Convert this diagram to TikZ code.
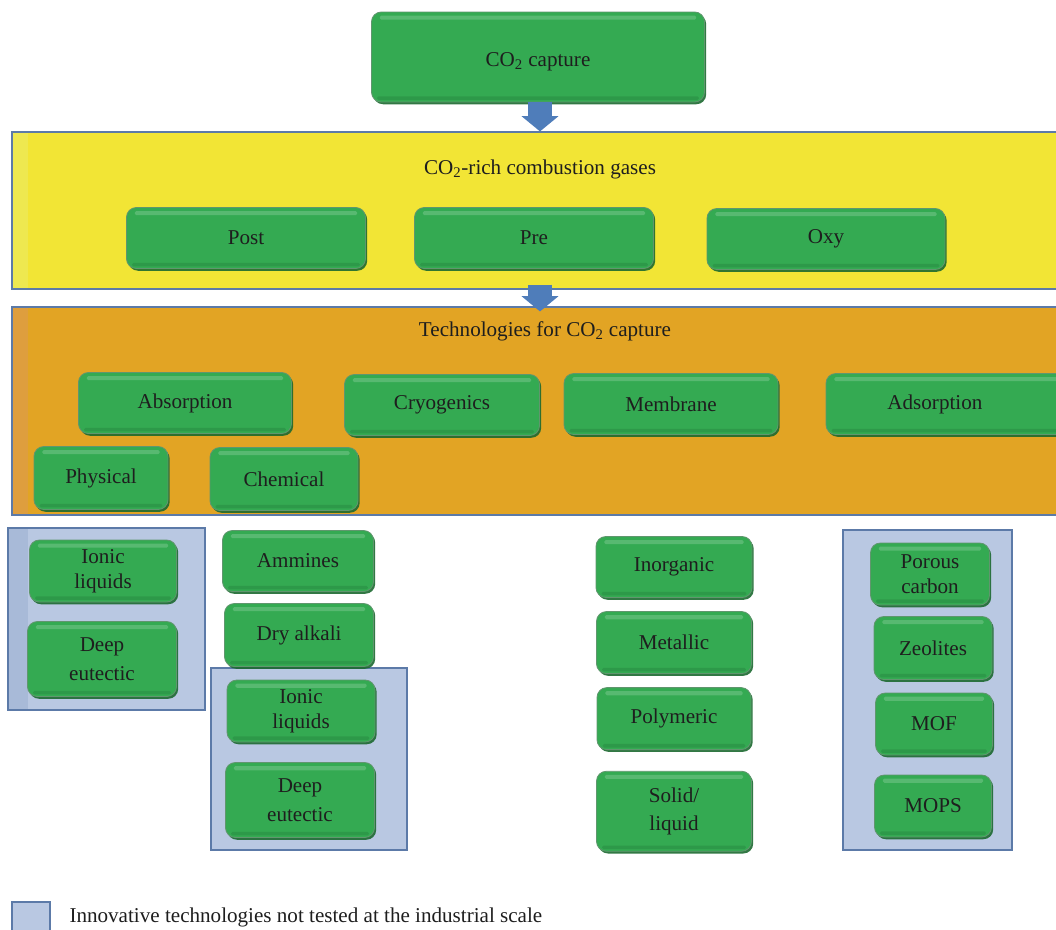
\documentclass[tikz,border=0pt]{standalone}
\usepackage{fontspec}
\setmainfont{Liberation Serif}
\usetikzlibrary{positioning, arrows.meta, shadows}

\definecolor{boxgreen}{RGB}{52,170,82}
\definecolor{edgegreen}{RGB}{28,105,48}
\definecolor{bandyellow}{RGB}{242,229,53}
\definecolor{stripyellow}{RGB}{238,232,80}
\definecolor{bandorange}{RGB}{226,164,36}
\definecolor{striporange}{RGB}{222,158,62}
\definecolor{newblue}{RGB}{185,200,226}
\definecolor{stripblue}{RGB}{168,186,216}
\definecolor{lineblue}{RGB}{92,122,168}
\definecolor{arrowblue}{RGB}{79,125,186}
\definecolor{textgray}{RGB}{30,30,30}

\begin{document}
\begin{tikzpicture}[x=0.025cm, y=-0.025cm,
  every node/.style={font=\fontsize{15}{18}\selectfont, text=textgray},
  btn/.style={rectangle, rounded corners=7pt, fill=boxgreen, draw=edgegreen!70,
    line width=0.6pt, align=center, inner sep=2pt,
    drop shadow={shadow xshift=1.2pt, shadow yshift=-1.6pt, fill=edgegreen, opacity=0.9},
    path picture={\fill[white, opacity=0.18, rounded corners=1pt]
      ([xshift=6pt, yshift=-2.5pt]path picture bounding box.north west) rectangle
      ([xshift=-6pt, yshift=-5.5pt]path picture bounding box.north east);
      \fill[edgegreen, opacity=0.25, rounded corners=1pt]
      ([xshift=4pt, yshift=1.5pt]path picture bounding box.south west) rectangle
      ([xshift=-4pt, yshift=4pt]path picture bounding box.south east);}},
  wh/.style 2 args={minimum width=#1*0.025cm, minimum height=#2*0.025cm},
  band/.style={rectangle, draw=lineblue, line width=0.8pt, inner sep=0pt},
  newbox/.style={rectangle, draw=lineblue, line width=0.8pt, fill=newblue, inner sep=0pt},
  blockarrow/.style={draw=arrowblue, line width=0.6cm,
    -{Triangle[width=0.9cm, length=0.38cm]}}]

\useasboundingbox (0,0) rectangle (1056,929);
\clip (0,0) rectangle (1056,929);

% the two bands
\node (gasband) [band, fill=bandyellow, wh={1048}{157}] at (536,210.5) {};
\fill[stripyellow] (13,133) rectangle (28,288);
\node (techband) [band, fill=bandorange, wh={1048}{208}] at (536,411) {};
\fill[striporange] (13,308) rectangle (28,514);

\node (gastitle) at (540,169) {CO\textsubscript{2}-rich combustion gases};
\node (techtitle) at (545,331) {Technologies for CO\textsubscript{2} capture};

% groups of innovative technologies
\node (group1) [newbox, wh={197}{182}] at (106.5,619) {};
\fill[stripblue] (9,529) rectangle (28,709);
\node (group2) [newbox, wh={196}{182}] at (309,759) {};
\node (group3) [newbox, wh={169}{320}] at (927.5,690) {};

% top of the tree
\node[btn, wh={333}{90}, text height=16pt] (capture) at (538,57) {CO\textsubscript{2} capture};

% kinds of combustion
\node[btn, wh={239}{61}] (post) at (246,238) {Post};
\node[btn, wh={239}{61}] (pre)  at (534,238) {Pre};
\node[btn, wh={238}{61}] (oxy)  at (826,239) {Oxy};

% technologies
\node[btn, wh={213}{61}] (absorption) at (185,403) {Absorption};
\node[btn, wh={195}{61}] (cryogenics) at (442,405) {Cryogenics};
\node[btn, wh={214}{61}] (membrane)   at (671,404) {Membrane};
\node[btn, wh={260}{61}] (adsorption) at (956,404) {\hspace*{-30pt}Adsorption};
\node[btn, wh={134}{63}] (physical)   at (101,478) {Physical};
\node[btn, wh={148}{63}] (chemical)   at (284,479) {Chemical};

% physical absorption
\node[btn, wh={147}{62}] (ionic1) at (103,571) {Ionic\\liquids};
\node[btn, wh={149}{75}] (deep1)  at (102,659) {Deep\\[3pt]eutectic};

% chemical absorption
\node[btn, wh={151}{61}] (ammines)   at (298,561) {Ammines};
\node[btn, wh={149}{63}] (dryalkali) at (299,635) {Dry alkali};
\node[btn, wh={148}{62}] (ionic2)    at (301,711) {Ionic\\liquids};
\node[btn, wh={149}{75}] (deep2)     at (300,800) {Deep\\[3pt]eutectic};

% membranes
\node[btn, wh={156}{61}] (inorganic) at (674,567) {Inorganic};
\node[btn, wh={155}{62}] (metallic)  [below=0.33cm of inorganic] {Metallic};
\node[btn, wh={154}{62}] (polymeric) [below=0.33cm of metallic] {Polymeric};
\node[btn, wh={155}{80}] (solid)     [below=0.52cm of polymeric] {Solid/\\[2pt]liquid};

% adsorbents
\node[btn, wh={119}{62}] (porous)   at (930,574) {Porous\\carbon};
\node[btn, wh={118}{63}] (zeolites) at (933,648) {Zeolites};
\node[btn, wh={117}{62}] (mof)      at (934,724) {MOF};
\node[btn, wh={117}{62}] (mops)     at (933,806) {MOPS};

% block arrows
\draw[blockarrow] ([xshift=0.05cm]capture.south) -- ([xshift=0.05cm]capture.south |- gasband.north);
\draw[blockarrow] ([xshift=0.1cm, yshift=0.125cm]gasband.south)
  -- ([xshift=0.1cm, yshift=-0.125cm]gasband.south |- techband.north);

% legend
\node (legendkey) [newbox, wh={38}{30}] at (31,917) {};
\node (legendtext) [right=0.35cm of legendkey] {Innovative technologies not tested at the industrial scale};

\end{tikzpicture}
\end{document}
